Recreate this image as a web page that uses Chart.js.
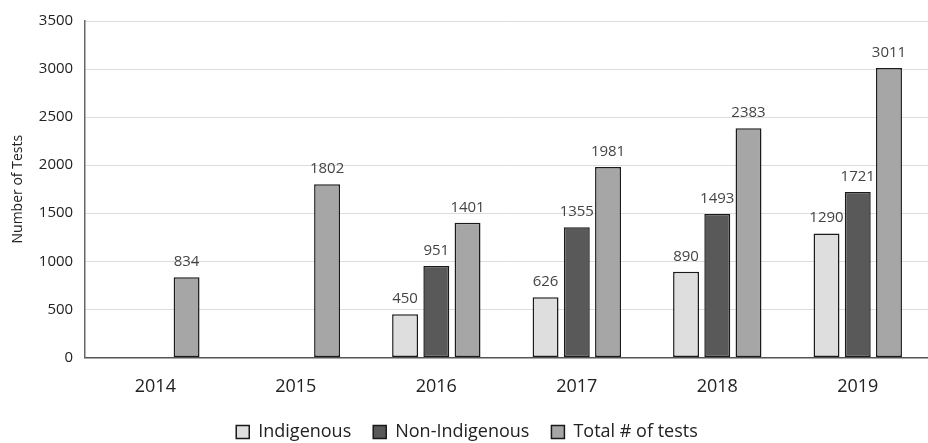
<!DOCTYPE html>
<html>
<head>
<meta charset="utf-8">
<script src="https://cdn.jsdelivr.net/npm/chart.js@4.4.1/dist/chart.umd.min.js"></script>
<style>
  html, body { margin: 0; padding: 0; background: #fff; }
  #wrap { width: 928px; height: 443px; position: relative; }
</style>
</head>
<body>
<div id="wrap"><canvas id="testsChart"></canvas></div>
<script>
const years = ['2014', '2015', '2016', '2017', '2018', '2019'];
const indigenous = [null, null, 450, 626, 890, 1290];
const nonIndigenous = [null, null, 951, 1355, 1493, 1721];
const totalTests = [834, 1802, 1401, 1981, 2383, 3011];
const yTicks = [0, 500, 1000, 1500, 2000, 2500, 3000, 3500];

const FONT = "'Open Sans', 'Liberation Sans', sans-serif";

// draws the value above each bar
const barLabels = {
  id: 'barLabels',
  afterDatasetsDraw(chart) {
    const ctx = chart.ctx;
    ctx.save();
    ctx.font = '15px ' + FONT;
    ctx.fillStyle = '#444';
    ctx.textAlign = 'center';
    ctx.textBaseline = 'bottom';
    chart.data.datasets.forEach((ds, i) => {
      chart.getDatasetMeta(i).data.forEach((bar, j) => {
        if (ds.data[j] == null) return;
        ctx.fillText(ds.data[j], bar.x, bar.y - 8);
      });
    });
    ctx.restore();
  }
};

new Chart(document.getElementById('testsChart'), {
  type: 'bar',
  data: {
    labels: years,
    datasets: [
      { label: 'Indigenous', data: indigenous, backgroundColor: '#dedede' },
      { label: 'Non-Indigenous', data: nonIndigenous, backgroundColor: '#595959' },
      { label: 'Total # of tests', data: totalTests, backgroundColor: '#a6a6a6' }
    ].map(d => Object.assign(d, {
      borderColor: '#1a1a1a', borderWidth: 1.5, borderSkipped: false,
      categoryPercentage: 0.667, barPercentage: 0.83
    }))
  },
  options: {
    responsive: true,
    maintainAspectRatio: false,
    animation: false,
    layout: { padding: { top: 3, right: 0, left: 6, bottom: -8 } },
    plugins: {
      legend: {
        position: 'bottom',
        labels: {
          color: '#222', font: { family: FONT, size: 18 },
          boxWidth: 13, boxHeight: 13, padding: 22
        }
      },
      tooltip: { enabled: false }
    },
    scales: {
      x: {
        grid: { display: false, drawTicks: false },
        border: { color: '#555', width: 1.5 },
        ticks: { color: '#222', font: { family: FONT, size: 18 }, padding: 19 },
        afterFit: axis => { axis.height -= 16; }
      },
      y: {
        min: 0, max: 3500,
        afterBuildTicks: axis => { axis.ticks = yTicks.map(v => ({ value: v })); },
        grid: { color: '#dcdcdc', drawTicks: false },
        border: { color: '#666', width: 1.5 },
        ticks: {
          color: '#222', font: { family: FONT, size: 15 }, padding: 12,
          callback: v => String(v)
        },
        title: {
          display: true, text: 'Number of Tests', color: '#222',
          font: { family: FONT, size: 14 }, padding: { bottom: 0 }
        }
      }
    }
  },
  plugins: [barLabels]
});
</script>
</body>
</html>
